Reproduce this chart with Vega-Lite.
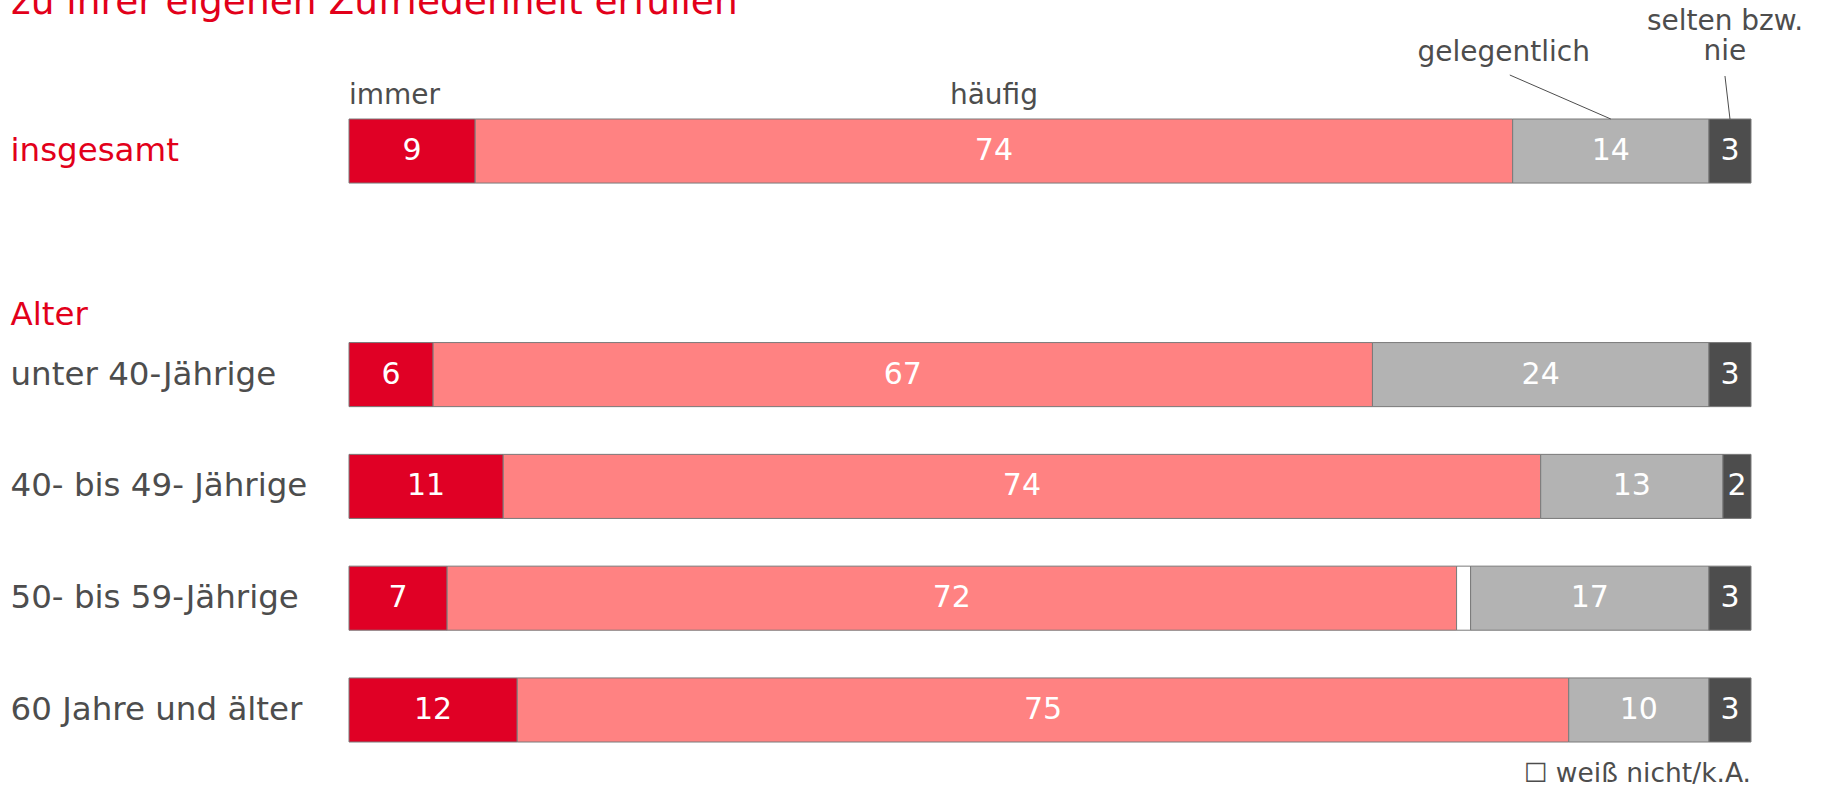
{
  "$schema": "https://vega.github.io/schema/vega-lite/v6.json",
  "width": 1402,
  "height": 623,
  "autosize": {"type": "none"},
  "padding": {"left": 349, "top": 119, "right": 73, "bottom": 46},
  "background": "white",
  "config": {"view": {"stroke": null}, "font": "DejaVu Sans"},
  "datasets": {
    "bars": [
      {"group": "insgesamt", "category": "immer", "order": 1, "value": 9},
      {"group": "insgesamt", "category": "häufig", "order": 2, "value": 74},
      {"group": "insgesamt", "category": "gelegentlich", "order": 4, "value": 14},
      {"group": "insgesamt", "category": "selten bzw.\nnie", "order": 5, "value": 3},
      {"group": "unter 40-Jährige", "category": "immer", "order": 1, "value": 6},
      {"group": "unter 40-Jährige", "category": "häufig", "order": 2, "value": 67},
      {"group": "unter 40-Jährige", "category": "gelegentlich", "order": 4, "value": 24},
      {"group": "unter 40-Jährige", "category": "selten bzw.\nnie", "order": 5, "value": 3},
      {"group": "40- bis 49- Jährige", "category": "immer", "order": 1, "value": 11},
      {"group": "40- bis 49- Jährige", "category": "häufig", "order": 2, "value": 74},
      {"group": "40- bis 49- Jährige", "category": "gelegentlich", "order": 4, "value": 13},
      {"group": "40- bis 49- Jährige", "category": "selten bzw.\nnie", "order": 5, "value": 2},
      {"group": "50- bis 59-Jährige", "category": "immer", "order": 1, "value": 7},
      {"group": "50- bis 59-Jährige", "category": "häufig", "order": 2, "value": 72},
      {"group": "50- bis 59-Jährige", "category": "weiß nicht", "order": 3, "value": 1},
      {"group": "50- bis 59-Jährige", "category": "gelegentlich", "order": 4, "value": 17},
      {"group": "50- bis 59-Jährige", "category": "selten bzw.\nnie", "order": 5, "value": 3},
      {"group": "60 Jahre und älter", "category": "immer", "order": 1, "value": 12},
      {"group": "60 Jahre und älter", "category": "häufig", "order": 2, "value": 75},
      {"group": "60 Jahre und älter", "category": "gelegentlich", "order": 4, "value": 10},
      {"group": "60 Jahre und älter", "category": "selten bzw.\nnie", "order": 5, "value": 3}
    ],
    "note": [{"note": "☐ weiß nicht/k.A."}],
    "heading": [{"heading": "zu ihrer eigenen Zufriedenheit erfüllen"}]
  },
  "layer": [
    {
      "data": {"name": "bars"},
      "transform": [
        {"stack": "value", "groupby": ["group"], "sort": [{"field": "order"}], "as": ["v0", "v1"]},
        {"calculate": "(datum.v0 + datum.v1) / 2", "as": "mid"}
      ],
      "layer": [
        {
          "mark": {"type": "bar", "stroke": "#7a7a7a", "strokeWidth": 1},
          "encoding": {
            "x": {"field": "v0", "type": "quantitative", "scale": {"domain": [0, 100], "nice": false, "zero": true}, "axis": null},
            "x2": {"field": "v1"},
            "y": {
              "field": "group", "type": "nominal", "sort": null,
              "scale": {"domain": ["insgesamt", "Alter", "unter 40-Jährige", "40- bis 49- Jährige", "50- bis 59-Jährige", "60 Jahre und älter"], "paddingInner": 0.427, "paddingOuter": 0},
              "axis": {
                "title": null, "domain": false, "ticks": false, "grid": false,
                "labelAlign": "left", "labelPadding": 339, "labelFont": "DejaVu Sans", "labelFontSize": 32.5, "labelLimit": 0,
                "labelBaseline": "middle",
                "labelColor": {"condition": {"test": "datum.value === 'insgesamt' || datum.value === 'Alter'", "value": "#E2001A"}, "value": "#4D4D4D"},
                "labelOffset": {"condition": {"test": "datum.value === 'Alter'", "value": 52}, "value": 0}
              }
            },
            "color": {
              "field": "category", "type": "nominal",
              "scale": {"domain": ["immer", "häufig", "weiß nicht", "gelegentlich", "selten bzw.\nnie"], "range": ["#E00025", "#FF8282", "#FFFFFF", "#B3B3B3", "#4D4D4D"]},
              "legend": null
            }
          }
        },
        {
          "transform": [{"filter": "datum.category !== 'weiß nicht'"}],
          "mark": {"type": "text", "color": "white", "fontSize": 30, "baseline": "middle", "align": "center"},
          "encoding": {
            "x": {"field": "mid", "type": "quantitative"},
            "y": {"field": "group", "type": "nominal", "sort": null},
            "text": {"field": "value", "type": "quantitative"}
          }
        },
        {
          "transform": [{"filter": "datum.group === 'insgesamt' && datum.category === 'immer'"}],
          "mark": {"type": "text", "color": "#4D4D4D", "fontSize": 28, "baseline": "alphabetic", "align": "left", "dy": -15},
          "encoding": {
            "x": {"field": "v0", "type": "quantitative"},
            "y": {"field": "group", "type": "nominal", "sort": null, "bandPosition": 0},
            "text": {"field": "category"}
          }
        },
        {
          "transform": [{"filter": "datum.group === 'insgesamt' && datum.category === 'häufig'"}],
          "mark": {"type": "text", "color": "#4D4D4D", "fontSize": 28, "baseline": "alphabetic", "align": "center", "dy": -15},
          "encoding": {
            "x": {"field": "mid", "type": "quantitative"},
            "y": {"field": "group", "type": "nominal", "sort": null, "bandPosition": 0},
            "text": {"field": "category"}
          }
        },
        {
          "transform": [{"filter": "datum.group === 'insgesamt' && datum.category === 'gelegentlich'"}],
          "mark": {"type": "text", "color": "#4D4D4D", "fontSize": 28, "baseline": "alphabetic", "align": "center", "dx": -107, "dy": -58},
          "encoding": {
            "x": {"field": "mid", "type": "quantitative"},
            "y": {"field": "group", "type": "nominal", "sort": null, "bandPosition": 0},
            "text": {"field": "category"}
          }
        },
        {
          "transform": [{"filter": "datum.group === 'insgesamt' && datum.order === 5"}],
          "mark": {"type": "text", "color": "#4D4D4D", "fontSize": 28, "baseline": "alphabetic", "align": "center", "dx": -5, "dy": -89, "lineBreak": "\n", "lineHeight": 30},
          "encoding": {
            "x": {"field": "mid", "type": "quantitative"},
            "y": {"field": "group", "type": "nominal", "sort": null, "bandPosition": 0},
            "text": {"field": "category"}
          }
        },
        {
          "transform": [{"filter": "datum.group === 'insgesamt' && datum.category === 'gelegentlich'"}],
          "mark": {"type": "rule", "color": "#4D4D4D", "strokeWidth": 1, "x2Offset": -101, "y2Offset": -44},
          "encoding": {
            "x": {"field": "mid", "type": "quantitative"},
            "x2": {"field": "mid"},
            "y": {"field": "group", "type": "nominal", "sort": null, "bandPosition": 0},
            "y2": {"field": "group", "bandPosition": 0}
          }
        },
        {
          "transform": [{"filter": "datum.group === 'insgesamt' && datum.order === 5"}],
          "mark": {"type": "rule", "color": "#4D4D4D", "strokeWidth": 1, "x2Offset": -5, "y2Offset": -43},
          "encoding": {
            "x": {"field": "mid", "type": "quantitative"},
            "x2": {"field": "mid"},
            "y": {"field": "group", "type": "nominal", "sort": null, "bandPosition": 0},
            "y2": {"field": "group", "bandPosition": 0}
          }
        }
      ]
    },
    {
      "data": {"name": "note"},
      "mark": {"type": "text", "color": "#4D4D4D", "fontSize": 26.5, "baseline": "alphabetic", "align": "right", "dy": 40},
      "encoding": {
        "x": {"datum": 100, "type": "quantitative"},
        "y": {"datum": "60 Jahre und älter", "type": "nominal", "bandPosition": 1},
        "text": {"field": "note"}
      }
    },
    {
      "data": {"name": "heading"},
      "mark": {"type": "text", "color": "#E2001A", "fontSize": 37.5, "baseline": "alphabetic", "align": "left", "dx": -338, "dy": -105},
      "encoding": {
        "x": {"datum": 0, "type": "quantitative"},
        "y": {"datum": "insgesamt", "type": "nominal", "bandPosition": 0},
        "text": {"field": "heading"}
      }
    }
  ]
}
